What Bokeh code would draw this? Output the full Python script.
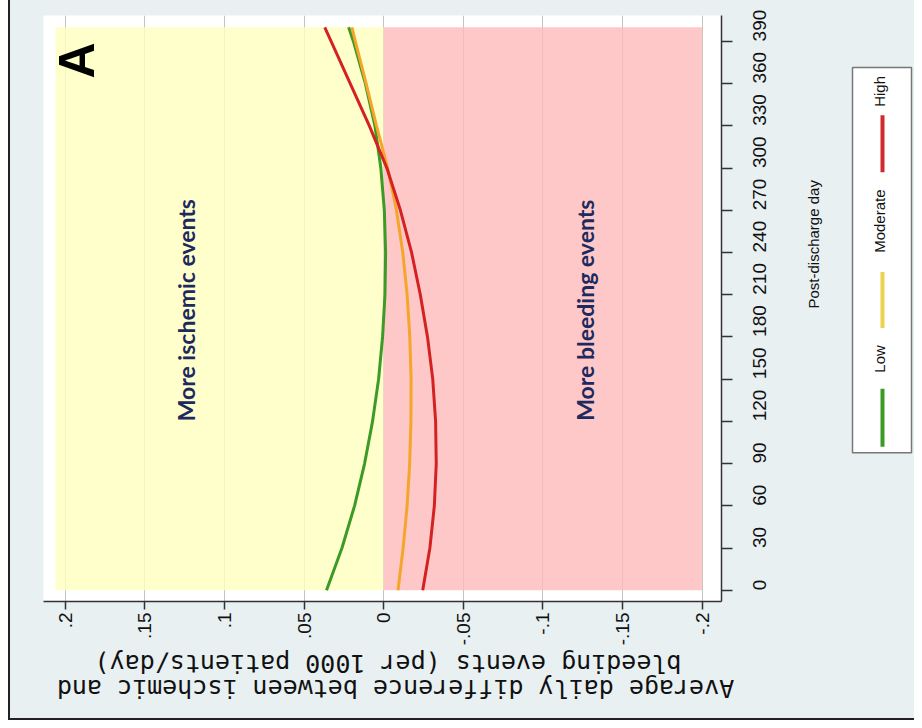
import math
from bokeh.plotting import figure
from bokeh.layouts import row, column
from bokeh.models import (Range1d, LinearAxis, FixedTicker, Label, Grid)
from bokeh.core.properties import value
from bokeh.embed import file_html
from bokeh.resources import INLINE

# ---------------- data ----------------
days = [0, 30, 60, 90, 120, 150, 180, 210, 240, 270, 300, 330, 360, 390, 400]
low = [0.0359, 0.0262, 0.0183, 0.0120, 0.0070, 0.0032, 0.0007, -0.0008, -0.0012,
       -0.0004, 0.0018, 0.0055, 0.0115, 0.0190, 0.0220]
moderate = [-0.0090, -0.0122, -0.0147, -0.0163, -0.0171, -0.0172, -0.0164, -0.0147,
            -0.0120, -0.0080, -0.0025, 0.0045, 0.0110, 0.0178, 0.0200]
high = [-0.0245, -0.0290, -0.0318, -0.0330, -0.0326, -0.0308, -0.0275, -0.0230,
        -0.0175, -0.0105, -0.0020, 0.0090, 0.0210, 0.0330, 0.0370]
series_names = ["Low", "Moderate", "High"]

x_ticks = [0.2, 0.15, 0.1, 0.05, 0.0, -0.05, -0.1, -0.15, -0.2]
x_tick_labels = [".2", ".15", ".1", ".05", "0", "-.05", "-.1", "-.15", "-.2"]
day_ticks = [0, 30, 60, 90, 120, 150, 180, 210, 240, 270, 300, 330, 360, 390]

ischemic_zone = [0.0, 0.206]
bleeding_zone = [-0.2, 0.0]
zone_days = [0, 400]
zone_labels = ["More ischemic events", "More bleeding events"]
x_title_lines = ["Average daily difference between  ischemic  and",
                 "bleeding events  (per 1000 patients/day)"]
y_title = "Post-discharge day"

# ---------------- styles ----------------
BG = "#e9f0f2"
SANS = "Liberation Sans"
colors = {"Low": "#3c9a26", "Moderate": "#f5a62a", "High": "#d42222"}
legend_colors = {"Low": "#3c9a26", "Moderate": "#ecd24e", "High": "#d02a2a"}

TOTAL_W, TOTAL_H = 904, 718
MAIN_W, MAIN_H = 840, 648
p = figure(width=MAIN_W, height=MAIN_H, output_backend="svg", toolbar_location=None,
           x_range=Range1d(0.2136, -0.2121), y_range=Range1d(-8.0, 408.4),
           x_axis_type=None, y_axis_type=None,
           min_border_left=33, min_border_right=129, min_border_top=15,
           min_border_bottom=MAIN_H - 602,
           background_fill_color="white", border_fill_color=BG,
           outline_line_color=None)

xticker = FixedTicker(ticks=x_ticks, minor_ticks=[])
yticker = FixedTicker(ticks=day_ticks, minor_ticks=[])

xaxis = LinearAxis(ticker=xticker,
                   major_label_overrides=dict(zip(x_ticks, x_tick_labels)),
                   major_label_orientation=math.pi / 2,
                   axis_line_color="#333333", axis_line_width=1.5,
                   major_tick_line_color="#333333", major_tick_line_width=1.5,
                   major_tick_out=8, major_tick_in=0, minor_tick_line_color=None,
                   major_label_text_font=SANS, major_label_text_font_size="19px",
                   major_label_text_color="#111111", major_label_standoff=3)
yaxis = LinearAxis(ticker=yticker,
                   major_label_orientation=math.pi / 2,
                   axis_line_color="#333333", axis_line_width=1.5,
                   major_tick_line_color="#333333", major_tick_line_width=1.5,
                   major_tick_out=11, major_tick_in=0, minor_tick_line_color=None,
                   major_label_text_font=SANS, major_label_text_font_size="19px",
                   major_label_text_color="#111111", major_label_standoff=27,
                   axis_label=y_title, axis_label_standoff=38,
                   axis_label_text_font=SANS, axis_label_text_font_size="15px",
                   axis_label_text_font_style="normal",
                   axis_label_text_color="#111111")
if "axis_label_orientation" in LinearAxis.properties():
    yaxis.axis_label_orientation = math.pi / 2
p.add_layout(xaxis, "below")
p.add_layout(yaxis, "right")

p.add_layout(Grid(dimension=0, ticker=xticker, grid_line_color="#c4c4c4",
                  grid_line_width=1))

# shaded zones (semi-transparent so the grid shows through)
p.quad(left=ischemic_zone[0], right=ischemic_zone[1], bottom=zone_days[0],
       top=zone_days[1], fill_color="#ffffbf", fill_alpha=0.8, line_color=None)
p.quad(left=bleeding_zone[0], right=bleeding_zone[1], bottom=zone_days[0],
       top=zone_days[1], fill_color="#ffbaba", fill_alpha=0.8, line_color=None)

for name, vals in zip(series_names, [low, moderate, high]):
    p.line(vals, days, line_color=colors[name], line_width=3)

# zone texts
for txt, xv in zip(zone_labels, [0.124, -0.1267]):
    p.add_layout(Label(x=xv, y=199, text=txt, angle=math.pi / 2,
                       text_align="center", text_baseline="middle",
                       text_font="Lato", text_font_style="bold",
                       text_font_size="23px", text_color="#1c2a5e"))

# panel letter
p.add_layout(Label(x=33, y=541, x_units="screen", y_units="screen", text="A",
                   angle=math.pi / 2, text_align="center", text_baseline="middle",
                   text_font=SANS, text_font_style="bold",
                   text_font_size="50px", text_color="black"))

# ---------------- legend (rotated, separate panel) ----------------
LEG_W = TOTAL_W - MAIN_W
leg = figure(width=LEG_W, height=MAIN_H, output_backend="svg", toolbar_location=None,
             x_range=Range1d(0, LEG_W), y_range=Range1d(602, 15),
             x_axis_type=None, y_axis_type=None,
             min_border_left=0, min_border_right=0, min_border_top=15,
             min_border_bottom=MAIN_H - 602,
             background_fill_color=BG, border_fill_color=BG,
             outline_line_color=None)
leg.grid.visible = False
leg.quad(left=[2], right=[61], top=[67], bottom=[453], fill_color="white",
         line_color="#777777", line_width=1.5)
leg_line_spans = {"Low": (447, 389), "Moderate": (328, 272), "High": (172, 115)}
leg_text_pos = {"Low": 359, "Moderate": 221, "High": 91}
for name in series_names:
    y0, y1 = leg_line_spans[name]
    leg.segment(x0=[32], y0=[y0], x1=[32], y1=[y1],
                line_color=legend_colors[name], line_width=4)
    leg.text(x=[29], y=[leg_text_pos[name]], text=[name], angle=math.pi / 2,
             text_align="center", text_baseline="middle",
             text_font=value(SANS), text_font_size="15px", text_color="#111111")

# ---------------- bottom axis title (upside down, separate panel) ----------------
TT_H = TOTAL_H - MAIN_H
tt = figure(width=TOTAL_W, height=TT_H, output_backend="svg", toolbar_location=None,
            x_range=Range1d(10, 10 + TOTAL_W), y_range=Range1d(TOTAL_H, MAIN_H),
            x_axis_type=None, y_axis_type=None, min_border=0,
            min_border_left=0, min_border_right=0, min_border_top=0,
            min_border_bottom=0,
            background_fill_color=BG, border_fill_color=BG,
            outline_line_color=None)
tt.grid.visible = False
tt.text(x=[380, 380], y=[688, 663], text=x_title_lines, angle=math.pi,
        text_align="center", text_baseline="middle",
        text_font=value("DejaVu Sans Mono"), text_font_size="25px",
        text_color="#111111")

top_row = row(p, leg, styles={"background-color": BG})
layout = column(top_row, tt,
                styles={"margin-left": "8px", "border-left": "2px solid #222222",
                        "border-bottom": "2px solid #222222",
                        "background-color": BG})

open("out.html", "w").write(file_html(layout, INLINE))
